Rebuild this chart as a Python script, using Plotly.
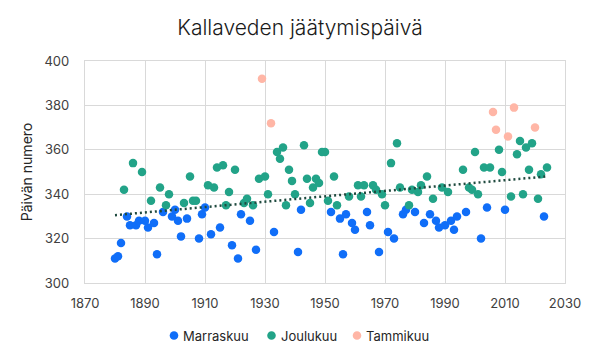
import numpy as np
import plotly.graph_objects as go

# Marraskuu (November)
nov_years = [1880, 1881, 1882, 1884, 1885, 1887, 1888, 1890, 1891, 1893, 1894, 1896, 1899,
             1900, 1901, 1902, 1904, 1908, 1909, 1910, 1912, 1915, 1919, 1921, 1922, 1925,
             1927, 1933, 1941, 1942, 1952, 1955, 1956, 1957, 1959, 1960, 1964, 1965, 1968,
             1971, 1973, 1976, 1977, 1980, 1983, 1985, 1987, 1988, 1990, 1992, 1993, 1994,
             1997, 2002, 2004, 2010, 2023]
nov_days = [311, 312, 318, 330, 326, 326, 328, 328, 325, 327, 313, 332, 330,
            333, 328, 321, 329, 320, 331, 334, 322, 325, 317, 311, 331, 328,
            315, 323, 314, 333, 332, 329, 313, 331, 327, 324, 332, 326, 314,
            323, 320, 331, 333, 332, 327, 331, 328, 325, 326, 328, 324, 330,
            332, 320, 334, 333, 330]

# Joulukuu (December)
dec_years = [1883, 1886, 1889, 1892, 1895, 1897, 1898, 1903, 1905, 1906, 1907, 1911, 1913,
             1914, 1916, 1917, 1918, 1920, 1923, 1924, 1926, 1928, 1930, 1931, 1934, 1935,
             1936, 1937, 1938, 1939, 1940, 1943, 1944, 1945, 1946, 1947, 1948, 1949, 1950,
             1951, 1953, 1954, 1958, 1961, 1962, 1963, 1966, 1967, 1969, 1970, 1972, 1974,
             1975, 1978, 1979, 1981, 1982, 1984, 1986, 1989, 1991, 1996, 1998, 1999, 2000,
             2001, 2003, 2005, 2008, 2009, 2012, 2014, 2015, 2016, 2017, 2018, 2019, 2021,
             2022, 2024]
dec_days = [342, 354, 350, 337, 343, 335, 340, 336, 348, 337, 337, 344, 343,
            352, 353, 335, 341, 351, 336, 338, 335, 347, 348, 340, 359, 356,
            361, 335, 351, 346, 340, 362, 347, 336, 343, 347, 345, 359, 359,
            337, 348, 335, 339, 344, 339, 344, 344, 342, 340, 335, 354, 363,
            343, 335, 342, 341, 344, 348, 338, 343, 341, 351, 343, 342, 359,
            340, 352, 352, 360, 350, 339, 358, 364, 340, 361, 351, 363, 338,
            349, 352]

# Tammikuu (January)
jan_years = [1929, 1932, 2006, 2007, 2011, 2013, 2020]
jan_days = [392, 372, 377, 369, 366, 379, 370]

x_ticks = [1870, 1890, 1910, 1930, 1950, 1970, 1990, 2010, 2030]
y_ticks = [300, 320, 340, 360, 380, 400]

series_names = ["Marraskuu", "Joulukuu", "Tammikuu"]

BLUE = "#106EF8"
GREEN = "#22A388"
PINK = "#FFB6A6"
TREND = "#1F4A3F"
FONT = "Inter"
W, H = 600, 360

all_x = np.array(nov_years + dec_years + jan_years, dtype=float)
all_y = np.array(nov_days + dec_days + jan_days, dtype=float)
slope, intercept = np.polyfit(all_x, all_y, 1)
tx = np.array([all_x.min(), all_x.max()])
ty = slope * tx + intercept

colors = [BLUE, GREEN, PINK]
fig = go.Figure()
for name, xs, ys, col in zip(series_names, [nov_years, dec_years, jan_years],
                             [nov_days, dec_days, jan_days], colors):
    fig.add_trace(go.Scatter(x=xs, y=ys, mode="markers", name=name, showlegend=False,
                             marker=dict(color=col, size=8.5, line=dict(width=0))))

fig.add_trace(go.Scatter(x=tx, y=ty, mode="lines", showlegend=False,
                         line=dict(color=TREND, width=2.5, dash="2px,3px")))

# legend drawn below the plot (dot + label per series)
ML, MR, MT, MB = 85, 35, 61, 77
pw, ph = W - ML - MR, H - MT - MB
def px_to_paper_x(px):
    return (px - ML) / pw
def px_to_paper_y(py):
    return (H - MB - py) / ph

leg_dot_x = [174, 271.5, 357]
leg_y = 335.5
r = 4.3
for name, col, dx in zip(series_names, colors, leg_dot_x):
    fig.add_shape(type="circle", xref="paper", yref="paper",
                  x0=px_to_paper_x(dx - r), x1=px_to_paper_x(dx + r),
                  y0=px_to_paper_y(leg_y + r), y1=px_to_paper_y(leg_y - r),
                  fillcolor=col, line=dict(width=0))
    fig.add_annotation(x=px_to_paper_x(dx + 7), y=px_to_paper_y(leg_y), xref="paper",
                       yref="paper", text=name, showarrow=False, xanchor="left",
                       yanchor="middle", font=dict(family=FONT, size=13, color="#262626"))

fig.update_layout(
    width=W, height=H,
    margin=dict(l=ML, r=MR, t=MT, b=MB),
    paper_bgcolor="white", plot_bgcolor="white",
    font=dict(family=FONT, size=13, color="#404040"),
    title=dict(text="Kallaveden jäätymispäivä", x=0.5, xanchor="center",
               y=1 - 28 / H, yanchor="middle", yref="container",
               font=dict(family=FONT, size=21, color="#1a1a1a", weight=300)),
    showlegend=False,
    xaxis=dict(range=[1870, 2030], tickvals=x_ticks, ticktext=[str(v) for v in x_ticks],
               showgrid=True, gridcolor="#D9D9D9", gridwidth=1.3, automargin=False,
               zeroline=False, showline=True, linecolor="#D9D9D9", linewidth=1.3,
               mirror=True, ticks="", ticklabelstandoff=8,
               tickfont=dict(family=FONT, size=13, color="#404040")),
    yaxis=dict(range=[300, 400], tickvals=y_ticks, ticktext=[str(v) for v in y_ticks],
               showgrid=True, gridcolor="#D9D9D9", gridwidth=1.3, automargin=False,
               zeroline=False, showline=True, linecolor="#D9D9D9", linewidth=1.3,
               mirror=True, ticks="", ticklabelstandoff=12,
               title=dict(text="Päivän numero", standoff=8,
                          font=dict(family=FONT, size=14, color="#262626")),
               tickfont=dict(family=FONT, size=13, color="#404040")),
)

fig.write_html("out.html", config={"displayModeBar": False},
               post_script="document.body.style.margin='0';")
